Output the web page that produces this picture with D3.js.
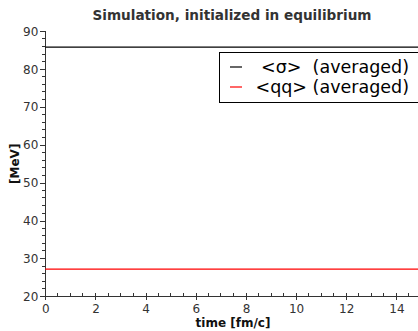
<!DOCTYPE html>
<html><head><meta charset="utf-8">
<script src="https://cdn.jsdelivr.net/npm/d3@7"></script>
<style>body{margin:0;background:#fff}svg{display:block;font-family:"DejaVu Sans",sans-serif}.axis line,.axis path,rect{shape-rendering:crispEdges}</style>
</head><body>
<script>
const times = [0, 1, 2, 3, 4, 5, 6, 7, 8, 9, 10, 11, 12, 13, 14, 15];
const sigmaValues = [85.8, 85.8, 85.8, 85.8, 85.8, 85.8, 85.8, 85.8, 85.8, 85.8, 85.8, 85.8, 85.8, 85.8, 85.8, 85.8];
const qqValues = [27.2, 27.2, 27.2, 27.2, 27.2, 27.2, 27.2, 27.2, 27.2, 27.2, 27.2, 27.2, 27.2, 27.2, 27.2, 27.2];
const seriesNames = ["<σ>  (averaged)", "<qq> (averaged)"];
const seriesColors = ["#000000", "#ff0000"];
const xTicks = [0, 2, 4, 6, 8, 10, 12, 14];
const yTicks = [20, 30, 40, 50, 60, 70, 80, 90];
const title = "Simulation, initialized in equilibrium";

const W = 418, H = 331;
const svg = d3.select("body").append("svg").attr("width", W).attr("height", H);
const x = d3.scaleLinear().domain([0, 15]).range([45.3, 421.5]);
const y = d3.scaleLinear().domain([20, 90]).range([296.3, 31.3]);
const axisColor = "#333";

// title
svg.append("text").attr("x", 232).attr("y", 20).attr("text-anchor", "middle")
  .attr("font-size", 13.6).attr("font-weight", "bold").attr("fill", "#333").text(title);

// x axis
const gx = svg.append("g").attr("class", "axis").attr("transform", `translate(0,${y(20)})`);
gx.call(d3.axisBottom(x).tickValues(xTicks).tickSize(4).tickPadding(4).tickFormat(d3.format("d")));
gx.selectAll("text").attr("font-size", 12).attr("fill", axisColor).attr("font-family", "DejaVu Sans");
gx.selectAll(".tick line").attr("stroke", axisColor).attr("y1", -3);
gx.select(".domain").attr("stroke", axisColor).attr("d", `M${x(0)},0H${W}`);
gx.selectAll(".minor").data(d3.range(0.5, 15, 0.5).filter(v => v % 2 !== 0)).enter()
  .append("line").attr("x1", d => x(d)).attr("x2", d => x(d)).attr("y1", 0).attr("y2", -3).attr("stroke", axisColor);

// y axis
const gy = svg.append("g").attr("class", "axis").attr("transform", `translate(${x(0)},0)`);
gy.call(d3.axisLeft(y).tickValues(yTicks).tickSize(5).tickPadding(2).tickFormat(d3.format("d")));
gy.selectAll("text").attr("font-size", 12).attr("fill", axisColor).attr("font-family", "DejaVu Sans");
gy.selectAll("line").attr("stroke", axisColor);
gy.select(".domain").attr("stroke", axisColor).attr("d", `M0,${y(20)}V${y(90)}`);
gy.selectAll(".minor").data(d3.range(22, 90, 2).filter(v => v % 10 !== 0)).enter()
  .append("line").attr("x1", 0).attr("x2", -3).attr("y1", d => y(d)).attr("y2", d => y(d)).attr("stroke", axisColor);

// axis labels
svg.append("text").attr("x", 233).attr("y", 327).attr("text-anchor", "middle")
  .attr("font-size", 12).attr("font-weight", "bold").attr("fill", "#111").text("time [fm/c]");
svg.append("text").attr("transform", `translate(18.5,${(y(20)+y(90))/2}) rotate(-90)`).attr("text-anchor", "middle")
  .attr("font-size", 12).attr("font-weight", "bold").attr("fill", "#111").text("[MeV]");

// lines
const line = d3.line().x((d, i) => x(times[i])).y(d => y(d));
[sigmaValues, qqValues].forEach((vals, i) => {
  svg.append("path").datum(vals).attr("d", line).attr("fill", "none")
    .attr("stroke", seriesColors[i]).attr("stroke-width", 1.2);
});

// legend
const lg = svg.append("g");
lg.append("rect").attr("x", 219.5).attr("y", 52.5).attr("width", 210).attr("height", 49.5)
  .attr("fill", "#fff").attr("stroke", "#000").attr("stroke-width", 1);
seriesNames.forEach((name, i) => {
  const cy = 67 + i * 20;
  lg.append("line").attr("x1", 230).attr("x2", 242).attr("y1", cy).attr("y2", cy)
    .attr("stroke", seriesColors[i]).attr("stroke-width", 1.2);
  lg.append("text").attr("x", 409).attr("y", cy + 5.5).attr("text-anchor", "end")
    .attr("font-size", 17.5).attr("fill", "#000").attr("xml:space", "preserve")
    .style("white-space", "pre").text(name);
});
</script>
</body></html>
